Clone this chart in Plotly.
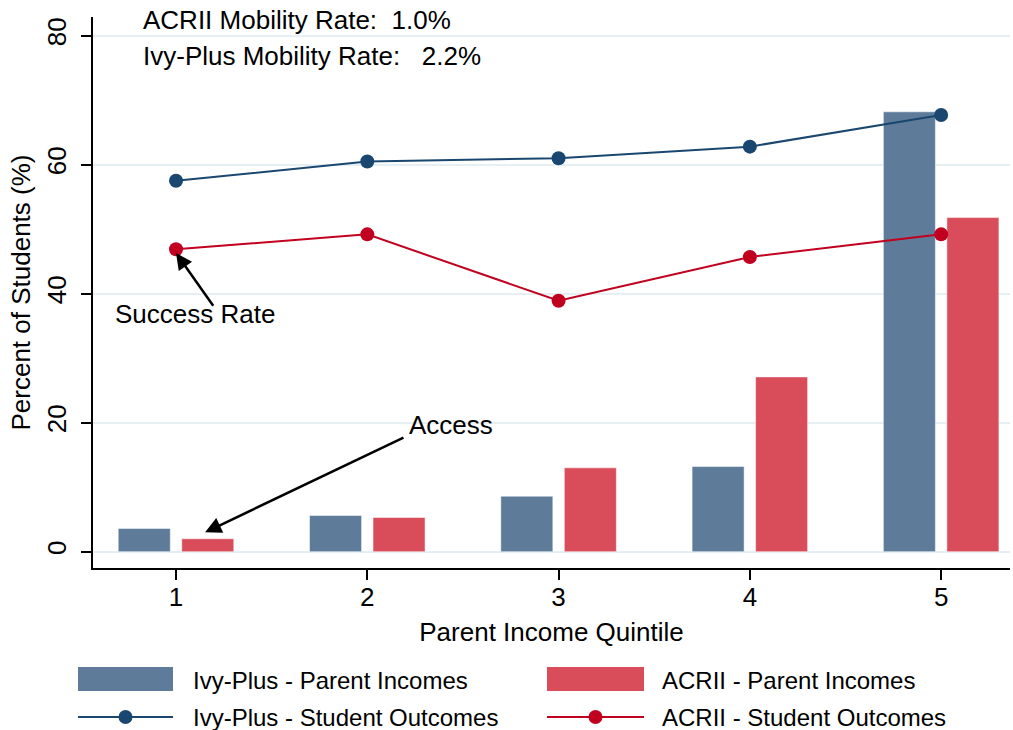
import plotly.graph_objects as go

quintiles = [1, 2, 3, 4, 5]
ivy_parent = [3.6, 5.6, 8.6, 13.2, 68.2]
acrii_parent = [2.0, 5.3, 13.0, 27.1, 51.8]
ivy_outcomes = [57.5, 60.5, 61.0, 62.8, 67.7]
acrii_outcomes = [46.9, 49.2, 38.9, 45.7, 49.2]

names = ["Ivy-Plus - Parent Incomes", "ACRII - Parent Incomes",
         "Ivy-Plus - Student Outcomes", "ACRII - Student Outcomes"]
mobility_texts = ["ACRII Mobility Rate:\u00a0\u00a01.0%", "Ivy-Plus Mobility Rate:\u00a0\u00a0\u00a02.2%"]

BAR_BLUE = "#5e7c99"
BAR_RED = "#d94c5a"
LINE_BLUE = "#1a476f"
LINE_RED = "#c10020"
FONT = "Liberation Sans, Arial, sans-serif"
FS = 26
LFS = 24

W, H = 1013, 730
ML, MR, MT, MB = 93, 3, 17, 162
PW, PH = W - ML - MR, H - MT - MB

def px(x):
    return (x - ML) / PW

def py(y):
    return (H - MB - y) / PH

fig = go.Figure()
fig.add_trace(go.Bar(x=quintiles, y=ivy_parent, name=names[0], marker_color=BAR_BLUE,
                     marker_line_color="#ffffff", marker_line_width=0.5,
                     width=0.272, offset=-0.302, showlegend=False))
fig.add_trace(go.Bar(x=quintiles, y=acrii_parent, name=names[1], marker_color=BAR_RED,
                     marker_line_color="#ffffff", marker_line_width=0.5,
                     width=0.272, offset=0.03, showlegend=False))
fig.add_trace(go.Scatter(x=quintiles, y=ivy_outcomes, name=names[2], mode="lines+markers",
                         line=dict(color=LINE_BLUE, width=2), marker=dict(size=14, color=LINE_BLUE),
                         showlegend=False, cliponaxis=False))
fig.add_trace(go.Scatter(x=quintiles, y=acrii_outcomes, name=names[3], mode="lines+markers",
                         line=dict(color=LINE_RED, width=2), marker=dict(size=14, color=LINE_RED),
                         showlegend=False, cliponaxis=False))

annotations = [
    dict(x=0.818, y=82.4, xref="x", yref="y", text=mobility_texts[0], showarrow=False,
         xanchor="left", yanchor="middle", font=dict(size=FS, color="black", family=FONT)),
    dict(x=0.818, y=76.9, xref="x", yref="y", text=mobility_texts[1], showarrow=False,
         xanchor="left", yanchor="middle", font=dict(size=FS, color="black", family=FONT)),
    dict(x=0.668, y=36.85, xref="x", yref="y", text="Success Rate", showarrow=False,
         xanchor="left", yanchor="middle", font=dict(size=FS, color="black", family=FONT)),
    dict(x=2.208, y=19.64, xref="x", yref="y", text="Access", showarrow=False,
         xanchor="left", yanchor="middle", font=dict(size=FS, color="black", family=FONT)),
    dict(x=1.0, y=46.3, ax=1.2, ay=37.9, xref="x", yref="y", axref="x", ayref="y",
         text="", showarrow=True, arrowhead=2, arrowwidth=2.5, arrowsize=1.3,
         arrowcolor="black", standoff=0, startstandoff=0),
    dict(x=1.152, y=3.0, ax=2.197, ay=17.8, xref="x", yref="y", axref="x", ayref="y",
         text="", showarrow=True, arrowhead=2, arrowwidth=2.5, arrowsize=1.3,
         arrowcolor="black", standoff=0, startstandoff=0),
]

# custom legend
shapes = []
leg_cols = [(78, 173, 191, BAR_BLUE, LINE_BLUE), (547, 644, 660, BAR_RED, LINE_RED)]
for i, (x0, x1, tx, bc, lc) in enumerate(leg_cols):
    shapes.append(dict(type="rect", xref="paper", yref="paper", x0=px(x0), x1=px(x1),
                       y0=py(691), y1=py(667), fillcolor=bc, line=dict(width=0)))
    shapes.append(dict(type="line", xref="paper", yref="paper", x0=px(x0), x1=px(x1),
                       y0=py(717), y1=py(717), line=dict(color=lc, width=2)))
    cx = (x0 + x1) / 2
    shapes.append(dict(type="circle", xref="paper", yref="paper", x0=px(cx - 7), x1=px(cx + 7),
                       y0=py(724), y1=py(710), fillcolor=lc, line=dict(width=0)))
    annotations.append(dict(x=px(tx), y=py(680), xref="paper", yref="paper", text=names[i],
                            showarrow=False, xanchor="left", yanchor="middle",
                            font=dict(size=LFS, color="black", family=FONT)))
    annotations.append(dict(x=px(tx), y=py(717), xref="paper", yref="paper", text=names[i + 2],
                            showarrow=False, xanchor="left", yanchor="middle",
                            font=dict(size=LFS, color="black", family=FONT)))

fig.update_layout(
    width=W, height=H,
    margin=dict(l=ML, r=MR, t=MT, b=MB),
    paper_bgcolor="white", plot_bgcolor="white",
    barmode="overlay",
    font=dict(family=FONT, size=FS, color="black"),
    showlegend=False,
    annotations=annotations,
    shapes=shapes,
)
fig.update_xaxes(range=[0.566, 5.36], tickvals=quintiles, ticktext=[str(q) for q in quintiles],
                 showgrid=False, zeroline=False, showline=True, linecolor="black", linewidth=1.5,
                 ticks="outside", ticklen=10, tickwidth=1.5, tickcolor="black",
                 tickfont=dict(size=FS), ticklabelstandoff=-5,
                 title=dict(text="Parent Income Quintile", font=dict(size=FS), standoff=12))
fig.update_yaxes(range=[-2.53, 82.9], tickvals=[0, 20, 40, 60, 80], tickangle=-90,
                 showgrid=True, gridcolor="#e6eff3", gridwidth=1.5, zeroline=False,
                 showline=True, linecolor="black", linewidth=1.5,
                 ticks="outside", ticklen=10, tickwidth=1.5, tickcolor="black",
                 tickfont=dict(size=FS), ticklabelstandoff=5,
                 title=dict(text="Percent of Students (%)", font=dict(size=FS), standoff=4))

fig.write_html("out.html", config={"displayModeBar": False},
               post_script="document.body.style.margin='0';document.body.style.overflow='hidden';")
